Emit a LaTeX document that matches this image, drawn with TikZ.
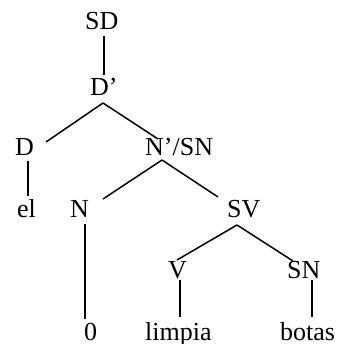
\documentclass[tikz,border=0pt]{standalone}
\usepackage{fontspec}
\setmainfont{Liberation Serif}
\begin{document}
\begin{tikzpicture}[x=1pt,y=-1pt,
  lbl/.style={inner sep=0pt, anchor=base west, font=\fontsize{26}{30}\selectfont},
  edge/.style={line width=1.5pt}]
\useasboundingbox (0,0) rectangle (338,344);
% labels
\node[lbl] (sd) at (85,30) {SD};
\node[lbl] (dbar) at (90,96) {D’};
\node[lbl] (d) at (15,156) {D};
\node[lbl] (nsn) at (145,156) {N’/SN};
\node[lbl] (el) at (17,217) {el};
\node[lbl] (n) at (70,217) {N};
\node[lbl] (sv) at (227,217) {SV};
\node[lbl] (v) at (168,278) {V};
\node[lbl] (sn) at (287,278) {SN};
\node[lbl] (zero) at (84,340) {0};
\node[lbl] (limpia) at (145,340) {limpia};
\node[lbl] (botas) at (280,340) {botas};
% connector end points
\coordinate (sdB) at (104,36);
\coordinate (dbarT) at (104,75);
\coordinate (dbarB) at (103,103);
\coordinate (dT) at (46,142);
\coordinate (nsnT) at (158,139);
\coordinate (dB) at (28,161);
\coordinate (elT) at (28,196);
\coordinate (nsnB) at (162,160);
\coordinate (nT) at (103,199);
\coordinate (svT) at (218,197);
\coordinate (nB) at (85,224);
\coordinate (zeroT) at (85,319);
\coordinate (svB) at (237,225);
\coordinate (vT) at (177,260);
\coordinate (snT) at (293,261);
\coordinate (vB) at (180,280);
\coordinate (limpiaT) at (180,317);
\coordinate (snB) at (312,280);
\coordinate (botasT) at (312,317);
% connectors
\draw[edge] (sdB) -- (dbarT);
\draw[edge] (dbarB) -- (dT);
\draw[edge] (dbarB) -- (nsnT);
\draw[edge] (dB) -- (elT);
\draw[edge] (nsnB) -- (nT);
\draw[edge] (nsnB) -- (svT);
\draw[edge] (nB) -- (zeroT);
\draw[edge] (svB) -- (vT);
\draw[edge] (svB) -- (snT);
\draw[edge] (vB) -- (limpiaT);
\draw[edge] (snB) -- (botasT);
\end{tikzpicture}
\end{document}
